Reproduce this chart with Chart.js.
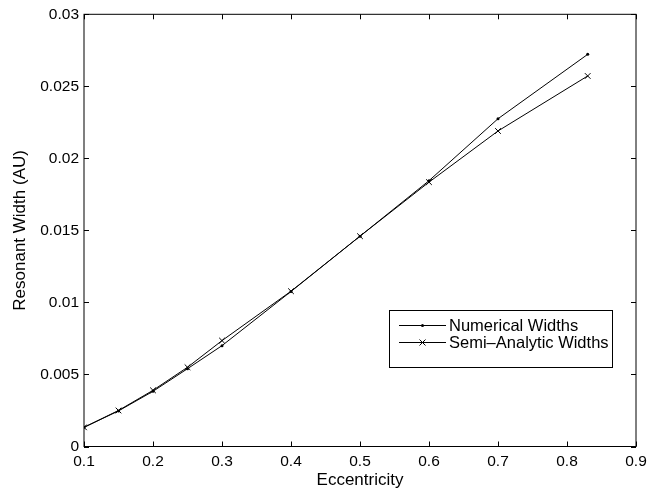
<!DOCTYPE html>
<html>
<head>
<meta charset="utf-8">
<script src="https://cdn.jsdelivr.net/npm/chart.js@4/dist/chart.umd.min.js"></script>
<style>
  html, body { margin: 0; padding: 0; background: #fff; }
  #wrap { width: 665px; height: 493px; }
</style>
</head>
<body>
<div id="wrap"><canvas id="chart"></canvas></div>
<script>
// Resonant width vs eccentricity

const eccentricity = [0.1, 0.15, 0.2, 0.25, 0.3, 0.4, 0.5, 0.6, 0.7, 0.83];
const numericalWidths = [0.00133, 0.00247, 0.00383, 0.0054, 0.0070, 0.01076, 0.0146, 0.01845, 0.02275, 0.02722];
const semiAnalyticWidths = [0.00133, 0.0025, 0.0039, 0.0055, 0.00735, 0.01078, 0.0146, 0.01835, 0.0219, 0.02572];
const xTicks = [0.1, 0.2, 0.3, 0.4, 0.5, 0.6, 0.7, 0.8, 0.9];
const yTicks = [0, 0.005, 0.01, 0.015, 0.02, 0.025, 0.03];
const legendLabels = ['Numerical Widths', 'Semi\u2013Analytic Widths'];

const FONT = 'Liberation Sans, Arial, Helvetica, sans-serif';

// MATLAB style box with inward ticks on all four sides
const boxPlugin = {
  id: 'box',
  afterDatasetsDraw(chart) {
    const { ctx, chartArea: a, scales } = chart;
    ctx.save();
    ctx.strokeStyle = '#000';
    ctx.lineWidth = 1;
    ctx.strokeRect(a.left, a.top, a.right - a.left, a.bottom - a.top);
    const len = 5;
    ctx.beginPath();
    xTicks.forEach(v => {
      const px = Math.round(scales.x.getPixelForValue(v)) + 0.5;
      ctx.moveTo(px, a.bottom); ctx.lineTo(px, a.bottom - len);
      ctx.moveTo(px, a.top); ctx.lineTo(px, a.top + len);
    });
    yTicks.forEach(v => {
      const py = Math.round(scales.y.getPixelForValue(v)) + 0.5;
      ctx.moveTo(a.left, py); ctx.lineTo(a.left + len, py);
      ctx.moveTo(a.right, py); ctx.lineTo(a.right - len, py);
    });
    ctx.stroke();
    ctx.restore();
  }
};

// legend box in lower right
const legendPlugin = {
  id: 'mlegend',
  afterDraw(chart) {
    const ctx = chart.ctx;
    const bx = 389, by = 310, bw = 223, bh = 57;
    ctx.save();
    ctx.fillStyle = '#fff';
    ctx.fillRect(bx, by, bw, bh);
    ctx.strokeStyle = '#000';
    ctx.lineWidth = 1;
    ctx.strokeRect(bx + 0.5, by + 0.5, bw, bh);
    const rows = [325, 342];
    ctx.font = '16.5px ' + FONT;
    ctx.fillStyle = '#000';
    ctx.textBaseline = 'middle';
    rows.forEach((ry, i) => {
      ctx.beginPath();
      ctx.moveTo(399, ry + 0.5); ctx.lineTo(446, ry + 0.5);
      ctx.stroke();
      const cx = 422.5;
      if (i === 0) {
        ctx.beginPath();
        ctx.arc(cx, ry + 0.5, 1.5, 0, Math.PI * 2);
        ctx.fill();
      } else {
        ctx.beginPath();
        ctx.moveTo(cx - 3, ry - 2.5); ctx.lineTo(cx + 3, ry + 3.5);
        ctx.moveTo(cx + 3, ry - 2.5); ctx.lineTo(cx - 3, ry + 3.5);
        ctx.stroke();
      }
      ctx.fillText(legendLabels[i], 449, ry + 1);
    });
    ctx.restore();
  }
};

const fmt = v => Number(v.toFixed(4)).toString();

new Chart(document.getElementById('chart'), {
  type: 'line',
  data: {
    datasets: [
      {
        label: legendLabels[0],
        data: eccentricity.map((x, i) => ({ x, y: numericalWidths[i] })),
        borderColor: '#000',
        backgroundColor: '#000',
        borderWidth: 1,
        pointStyle: 'circle',
        pointRadius: 1.5,
        pointBorderWidth: 0,
        tension: 0
      },
      {
        label: legendLabels[1],
        data: eccentricity.map((x, i) => ({ x, y: semiAnalyticWidths[i] })),
        borderColor: '#000',
        backgroundColor: '#000',
        borderWidth: 1,
        pointStyle: 'crossRot',
        pointRadius: 4,
        pointBorderWidth: 1,
        tension: 0
      }
    ]
  },
  options: {
    responsive: true,
    maintainAspectRatio: false,
    animation: false,
    devicePixelRatio: 1,
    layout: { padding: { left: 0, top: 12, right: 29, bottom: 0 } },
    plugins: { legend: { display: false }, tooltip: { enabled: false } },
    scales: {
      x: {
        type: 'linear',
        min: 0.1, max: 0.9,
        afterBuildTicks: s => { s.ticks = xTicks.map(v => ({ value: v })); },
        afterFit: s => { s.height = 46.5; },
        grid: { display: false, drawTicks: false },
        border: { display: false },
        ticks: { color: '#000', padding: 6, maxRotation: 0, font: { size: 15.5, family: FONT }, callback: v => fmt(v) },
        title: { display: true, text: 'Eccentricity', color: '#000', font: { size: 17, family: FONT }, padding: { top: 2, bottom: 2 } }
      },
      y: {
        type: 'linear',
        min: 0, max: 0.03,
        afterBuildTicks: s => { s.ticks = yTicks.map(v => ({ value: v })); },
        afterFit: s => { s.width = 84; },
        grid: { display: false, drawTicks: false },
        border: { display: false },
        ticks: { color: '#000', padding: 5, font: { size: 15.5, family: FONT }, callback: v => fmt(v) },
        title: { display: true, text: 'Resonant Width (AU)', color: '#000', font: { size: 17, family: FONT }, padding: { top: 10, bottom: 4 } }
      }
    }
  },
  plugins: [boxPlugin, legendPlugin]
});
</script>
</body>
</html>
